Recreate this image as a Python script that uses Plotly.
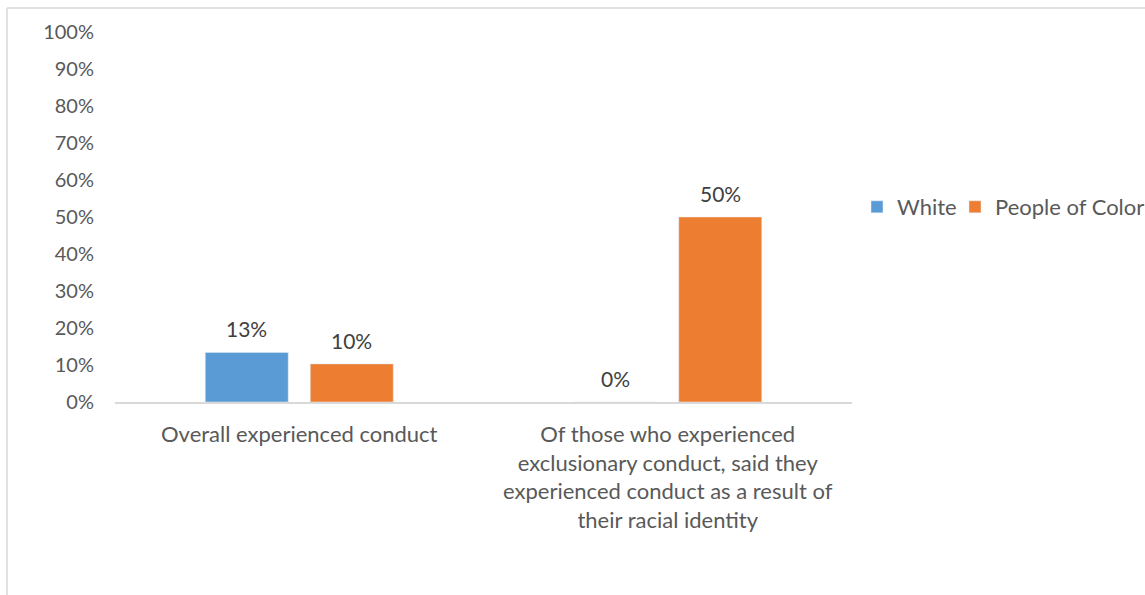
import plotly.graph_objects as go

categories = [
    "Overall experienced conduct",
    "Of those who experienced<br>exclusionary conduct, said they<br>experienced conduct as a result of<br>their racial identity",
]
white_values = [13.4, 0.0]
poc_values = [10.3, 50.0]
series_names = ["White", "People of Color"]
tick_vals = [0, 10, 20, 30, 40, 50, 60, 70, 80, 90, 100]
tick_text = [f"{v}%" for v in tick_vals]

FONT = "Lato"
TXT = "#595959"
FS = 22

L, R, T, B = 115, 852, 32, 402
W, H = 1145, 595
pw, ph = R - L, B - T
cat_w = pw / len(categories)
bargap, bargroupgap = 0.43, 0.21
slot = cat_w * (1 - bargap) / 2
offsets = [-slot / 2, slot / 2]

fig = go.Figure()
colors = ["#5B9BD5", "#ED7D31"]
legend_ids = ["legend", "legend2"]
for name, vals, col, lg in zip(series_names, [white_values, poc_values], colors, legend_ids):
    fig.add_trace(go.Bar(x=categories, y=vals, name=name, marker=dict(color=col),
                         legend=lg))

annotations = []
for vals, off in zip([white_values, poc_values], offsets):
    for c, v in zip(categories, vals):
        annotations.append(dict(
            x=c, y=v, xref="x", yref="y", text=f"{v:.0f}%", showarrow=False,
            xshift=off, yshift=9, yanchor="bottom", xanchor="center",
            font=dict(family=FONT, size=21, color="#404040"),
        ))

def legend_at(px):
    return dict(orientation="h", x=(px - L) / pw, y=(B - 207) / ph,
                xanchor="left", yanchor="middle", bgcolor="rgba(0,0,0,0)",
                font=dict(family=FONT, size=FS, color=TXT), itemwidth=30)

fig.update_layout(
    width=W, height=H,
    margin=dict(l=L, r=W - R, t=T, b=H - B, pad=0, autoexpand=False),
    paper_bgcolor="white", plot_bgcolor="white",
    barmode="group", bargap=bargap, bargroupgap=bargroupgap,
    font=dict(family=FONT, size=FS, color=TXT),
    showlegend=True,
    legend=legend_at(857),
    legend2=legend_at(955),
    xaxis=dict(showgrid=False, showline=True, linecolor="#D9D9D9", linewidth=1.5,
               ticks="", ticklabelstandoff=12, automargin=False,
               tickfont=dict(family=FONT, size=FS, color=TXT)),
    yaxis=dict(range=[0, 100], tickvals=tick_vals, ticktext=tick_text,
               showgrid=False, showline=False, zeroline=False, ticks="",
               ticklabelstandoff=20, automargin=False,
               tickfont=dict(family=FONT, size=20, color=TXT)),
    annotations=annotations,
    shapes=[
        dict(type="line", xref="paper", yref="paper",
             x0=(7 - L) / pw, x1=(W + 10 - L) / pw,
             y0=(B - 8) / ph, y1=(B - 8) / ph,
             line=dict(color="#D9D9D9", width=1.5)),
        dict(type="line", xref="paper", yref="paper",
             x0=(7 - L) / pw, x1=(7 - L) / pw,
             y0=(B - 8) / ph, y1=(B - H - 10) / ph,
             line=dict(color="#D9D9D9", width=1.5)),
    ],
)

fig.write_html("out.html", config={"displayModeBar": False},
               post_script="document.body.style.margin='0';document.body.style.overflow='hidden';")
